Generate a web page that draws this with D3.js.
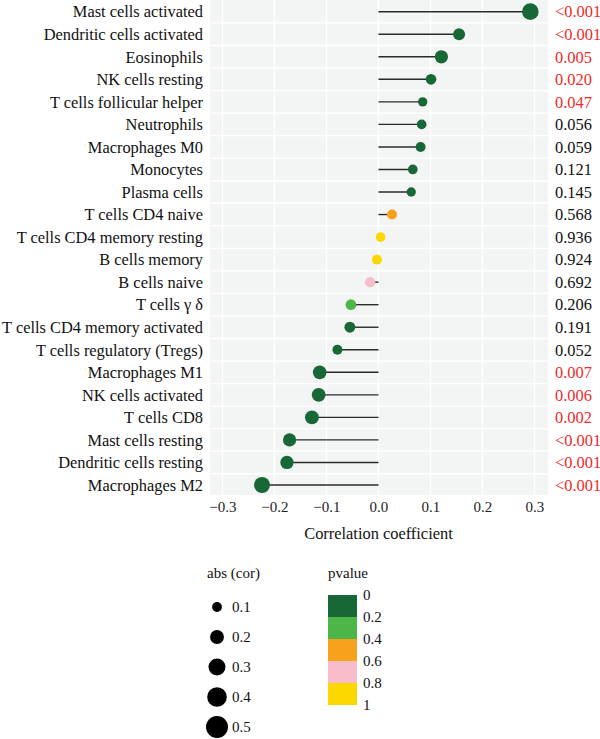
<!DOCTYPE html>
<html>
<head>
<meta charset="utf-8">
<script src="https://cdn.jsdelivr.net/npm/d3@7"></script>
<style>
  body { margin: 0; background: #fff; }
</style>
</head>
<body>
<div id="chart-container"></div>
<script>
// Data
const cells = [
  "Mast cells activated", "Dendritic cells activated", "Eosinophils", "NK cells resting",
  "T cells follicular helper", "Neutrophils", "Macrophages M0", "Monocytes", "Plasma cells",
  "T cells CD4 naive", "T cells CD4 memory resting", "B cells memory", "B cells naive",
  "T cells γ δ", "T cells CD4 memory activated", "T cells regulatory (Tregs)",
  "Macrophages M1", "NK cells activated", "T cells CD8", "Mast cells resting",
  "Dendritic cells resting", "Macrophages M2"
];
const cor = [0.292, 0.155, 0.121, 0.101, 0.085, 0.083, 0.081, 0.066, 0.063, 0.026, 0.004, -0.003,
  -0.016, -0.053, -0.055, -0.079, -0.113, -0.115, -0.128, -0.171, -0.176, -0.224];
const absCor = [0.287, 0.148, 0.182, 0.118, 0.089, 0.097, 0.103, 0.097, 0.089, 0.103, 0.097, 0.103,
  0.109, 0.118, 0.124, 0.103, 0.193, 0.2, 0.2, 0.182, 0.182, 0.263];
const pvalue = [0.0005, 0.0005, 0.005, 0.020, 0.047, 0.056, 0.059, 0.121, 0.145, 0.568, 0.936, 0.924,
  0.692, 0.206, 0.191, 0.052, 0.007, 0.006, 0.002, 0.0005, 0.0005, 0.0005];
const pvalueText = ["<0.001", "<0.001", "0.005", "0.020", "0.047", "0.056", "0.059", "0.121", "0.145",
  "0.568", "0.936", "0.924", "0.692", "0.206", "0.191", "0.052", "0.007", "0.006", "0.002",
  "<0.001", "<0.001", "<0.001"];
const xTicks = [-0.3, -0.2, -0.1, 0, 0.1, 0.2, 0.3];
const sizeBreaks = [0.1, 0.2, 0.3, 0.4, 0.5];
const pBreaks = [0, 0.2, 0.4, 0.6, 0.8, 1];
const pColors = ["#186837", "#4cb648", "#f8a11d", "#f8bcca", "#fdd800"];

const data = cells.map((c, i) => ({ cell: c, cor: cor[i], abs: absCor[i], p: pvalue[i], pText: pvalueText[i] }));

const FONT = "'Liberation Serif', 'DejaVu Serif', serif";
const W = 600, H = 739;
const panel = { left: 210, right: 548, top: 0, bottom: 495 };

const svg = d3.select("#chart-container")
  .append("svg")
  .attr("width", W)
  .attr("height", H)
  .style("font-family", FONT);

// Scales
const x = d3.scaleLinear().domain([-0.324, 0.326]).range([panel.left, panel.right]);
const y = d3.scalePoint().domain(cells).range([11.7, 485]);
const r = d3.scaleSqrt().domain([0, 0.5]).range([0, 11]);
const color = d3.scaleThreshold().domain([0.2, 0.4, 0.6, 0.8]).range(pColors);

// Panel background
svg.append("rect")
  .attr("x", panel.left)
  .attr("y", panel.top)
  .attr("width", panel.right - panel.left)
  .attr("height", panel.bottom - panel.top)
  .attr("fill", "#f3f5f4");

// Vertical gridlines
svg.selectAll(".xgrid")
  .data(xTicks)
  .join("line")
  .attr("x1", d => x(d))
  .attr("x2", d => x(d))
  .attr("y1", panel.top)
  .attr("y2", panel.bottom)
  .attr("stroke", "#fff")
  .attr("stroke-width", 1.3);

// Horizontal gridlines between rows
const step = y.step();
svg.selectAll(".ygrid")
  .data(cells.slice(0, -1))
  .join("line")
  .attr("x1", panel.left)
  .attr("x2", panel.right)
  .attr("y1", d => y(d) + step / 2)
  .attr("y2", d => y(d) + step / 2)
  .attr("stroke", "#fff")
  .attr("stroke-width", 1.3);

// Lollipop stems
svg.selectAll(".stem")
  .data(data)
  .join("line")
  .attr("x1", x(0))
  .attr("x2", d => x(d.cor))
  .attr("y1", d => y(d.cell))
  .attr("y2", d => y(d.cell))
  .attr("stroke", "#2a2a2a")
  .attr("stroke-width", 1.4);

// Dots
svg.selectAll(".dot")
  .data(data)
  .join("circle")
  .attr("cx", d => x(d.cor))
  .attr("cy", d => y(d.cell))
  .attr("r", d => r(d.abs))
  .attr("fill", d => color(d.p));

// Category labels
svg.selectAll(".cat")
  .data(data)
  .join("text")
  .attr("x", 203)
  .attr("y", d => y(d.cell))
  .attr("dy", "0.35em")
  .attr("text-anchor", "end")
  .style("font-family", FONT)
  .style("font-size", "16.4px")
  .attr("fill", "#111")
  .text(d => d.cell);

// p-value labels
svg.selectAll(".pv")
  .data(data)
  .join("text")
  .attr("x", 555)
  .attr("y", d => y(d.cell))
  .attr("dy", "0.35em")
  .style("font-family", FONT)
  .style("font-size", "16.4px")
  .attr("fill", d => d.p < 0.05 ? "#ee2a2a" : "#111")
  .text(d => d.pText);

// x axis
const xAxis = svg.append("g")
  .attr("transform", `translate(0,${panel.bottom})`)
  .call(d3.axisBottom(x).tickValues(xTicks).tickSize(0).tickPadding(6)
    .tickFormat(d => d3.format(".1f")(d).replace("-", "−")));
xAxis.attr("font-family", null);
xAxis.select(".domain").remove();
xAxis.selectAll(".tick text")
  .style("font-size", "15px")
  .style("font-family", FONT)
  .attr("fill", "#222");

svg.append("text")
  .attr("x", x(0))
  .attr("y", 539)
  .attr("text-anchor", "middle")
  .style("font-family", FONT)
  .style("font-size", "16.4px")
  .attr("fill", "#111")
  .text("Correlation coefficient");

// Size legend
svg.append("text")
  .attr("x", 207)
  .attr("y", 578)
  .style("font-family", FONT)
  .style("font-size", "15px")
  .attr("fill", "#111")
  .text("abs (cor)");

const sizeRow = d3.scaleLinear().domain([0.1, 0.5]).range([607, 727]);
svg.selectAll(".sleg")
  .data(sizeBreaks)
  .join("circle")
  .attr("cx", 217)
  .attr("cy", d => sizeRow(d))
  .attr("r", d => r(d))
  .attr("fill", "#000");
svg.selectAll(".slegt")
  .data(sizeBreaks)
  .join("text")
  .attr("x", 232)
  .attr("y", d => sizeRow(d))
  .attr("dy", "0.35em")
  .style("font-family", FONT)
  .style("font-size", "15px")
  .attr("fill", "#111")
  .text(d => d.toFixed(1));

// Colour legend
svg.append("text")
  .attr("x", 328)
  .attr("y", 578)
  .style("font-family", FONT)
  .style("font-size", "15px")
  .attr("fill", "#111")
  .text("pvalue");

const pRow = d3.scaleLinear().domain([0, 1]).range([595, 705]);
svg.selectAll(".cleg")
  .data(pColors)
  .join("rect")
  .attr("x", 328)
  .attr("y", (d, i) => pRow(pBreaks[i]))
  .attr("width", 29)
  .attr("height", (d, i) => pRow(pBreaks[i + 1]) - pRow(pBreaks[i]))
  .attr("fill", d => d);
svg.selectAll(".clegt")
  .data(pBreaks)
  .join("text")
  .attr("x", 363)
  .attr("y", d => pRow(d))
  .attr("dy", "0.35em")
  .style("font-family", FONT)
  .style("font-size", "15px")
  .attr("fill", "#111")
  .text(d => d === 0 || d === 1 ? d : d.toFixed(1));
</script>
</body>
</html>
